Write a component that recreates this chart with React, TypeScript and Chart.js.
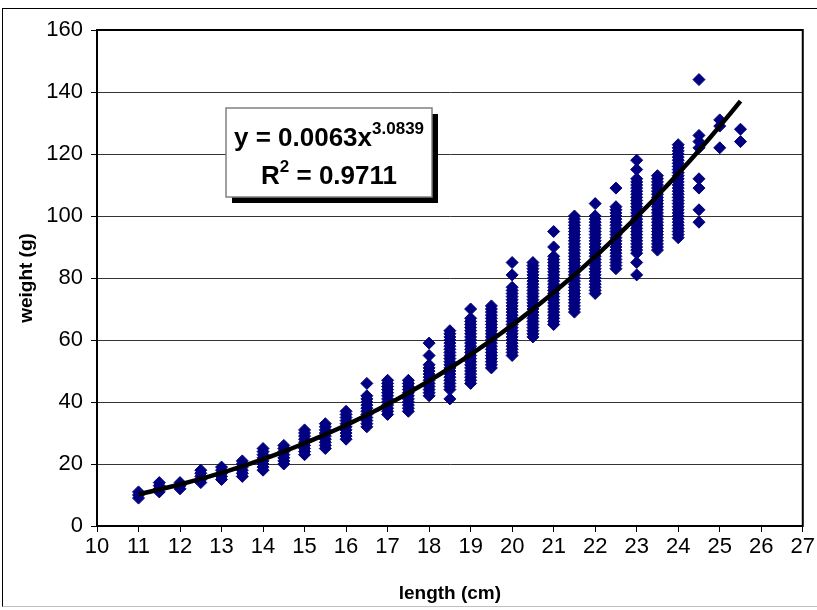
import { useEffect, useRef } from "react";
import { Chart, registerables } from "chart.js";

Chart.register(...registerables);

// ---- data ----
const xTickValues = [10, 11, 12, 13, 14, 15, 16, 17, 18, 19, 20, 21, 22, 23, 24, 25, 26, 27];
const yTickValues = [0, 20, 40, 60, 80, 100, 120, 140, 160];

const lengthsCm = [
  11, 11.5, 12, 12.5, 13, 13.5, 14, 14.5, 15, 15.5, 16, 16.5, 17, 17.5, 18,
  18.5, 19, 19.5, 20, 20.5, 21, 21.5, 22, 22.5, 23, 23.5, 24, 24.5, 25, 25.5,
];

const weightsG: number[][] = [
  [9, 10, 11],
  [11, 12, 13, 14],
  [12, 13, 14],
  [14, 15, 16, 17, 18],
  [15, 16, 17, 18, 19],
  [16, 17, 18, 19, 20, 21],
  [18, 19, 20, 21, 22, 23, 24, 25],
  [20, 21, 22, 23, 24, 25, 26],
  [23, 24, 25, 26, 27, 28, 29, 30, 31],
  [25, 26, 27, 28, 29, 30, 31, 32, 33],
  [28, 29, 30, 31, 32, 33, 34, 35, 36, 37],
  [32, 33, 34, 35, 36, 37, 38, 39, 40, 41, 42, 46],
  [36, 37, 38, 39, 40, 41, 42, 43, 44, 45, 46, 47],
  [37, 38, 39, 40, 41, 42, 43, 44, 45, 46, 47],
  [42, 43, 44, 45, 46, 47, 48, 49, 50, 51, 52, 55, 59],
  [41, 44, 45, 46, 47, 48, 49, 50, 51, 52, 53, 54, 55, 56, 57, 58, 59, 60, 61, 62, 63],
  [46, 47, 48, 49, 50, 51, 52, 53, 54, 55, 56, 57, 58, 59, 60, 61, 62, 63, 64, 65, 66, 67, 70],
  [51, 52, 53, 54, 55, 56, 57, 58, 59, 60, 61, 62, 63, 64, 65, 66, 67, 68, 69, 70, 71],
  [55, 56, 57, 58, 59, 60, 61, 62, 63, 64, 65, 66, 67, 68, 69, 70, 71, 72, 73, 74, 75, 76, 77, 81, 85],
  [61, 62, 63, 64, 65, 66, 67, 68, 69, 70, 71, 72, 73, 74, 75, 76, 77, 78, 79, 80, 81, 82, 83, 84, 85],
  [65, 66, 67, 68, 69, 70, 71, 72, 73, 74, 75, 76, 77, 78, 79, 80, 81, 82, 83, 84, 85, 86, 87, 90, 95],
  [69, 70, 71, 72, 73, 74, 75, 76, 77, 78, 79, 80, 81, 82, 83, 84, 85, 86, 87, 88, 89, 90, 91, 92, 93, 94, 95, 96, 97, 98, 99, 100],
  [75, 76, 77, 78, 79, 80, 81, 82, 83, 84, 85, 86, 87, 88, 89, 90, 91, 92, 93, 94, 95, 96, 97, 98, 99, 100, 104],
  [83, 84, 85, 86, 87, 88, 89, 90, 91, 92, 93, 94, 95, 96, 97, 98, 99, 100, 101, 102, 103, 109],
  [81, 85, 88, 89, 90, 91, 92, 93, 94, 95, 96, 97, 98, 99, 100, 101, 102, 103, 104, 105, 106, 107, 108, 109, 110, 111, 112, 115, 118],
  [89, 90, 91, 92, 93, 94, 95, 96, 97, 98, 99, 100, 101, 102, 103, 104, 105, 106, 107, 108, 109, 110, 111, 112, 113],
  [93, 94, 95, 96, 97, 98, 99, 100, 101, 102, 103, 104, 105, 106, 107, 108, 109, 110, 111, 112, 113, 114, 115, 116, 117, 118, 119, 120, 121, 122, 123],
  [98, 102, 109, 112, 122, 124, 126, 144],
  [122, 129, 131],
  [124, 128],
];

// power trend line fitted in the original: y = a * x^b
const trendCoefA = 0.0063;
const trendExpB = 3.0839;
const trendStart = 11;
const trendEnd = 25.5;

const eqMain = "y = 0.0063x";
const eqSup = "3.0839";
const r2Base = "R";
const r2Sup = "2";
const r2Rest = " = 0.9711";

const xTitle = "length (cm)";
const yTitle = "weight (g)";

const FONT = "'Liberation Sans', Arial, sans-serif";

export default function App() {
  const ref = useRef<HTMLCanvasElement | null>(null);

  useEffect(() => {
    document.body.style.margin = "0";
    const canvas = ref.current;
    if (!canvas) return;

    const scatterData = lengthsCm.flatMap((x, i) => weightsG[i].map((y) => ({ x, y })));
    const trendData: { x: number; y: number }[] = [];
    const steps = 60;
    for (let k = 0; k <= steps; k++) {
      const x = trendStart + ((trendEnd - trendStart) * k) / steps;
      trendData.push({ x, y: trendCoefA * Math.pow(x, trendExpB) });
    }

    const framePlugin = {
      id: "frameBox",
      beforeDatasetsDraw(chart: any) {
        const { ctx, chartArea: a } = chart;
        ctx.save();
        ctx.strokeStyle = "#000";
        ctx.lineWidth = 2;
        ctx.strokeRect(a.left, a.top, a.right - a.left, a.bottom - a.top);
        ctx.restore();
      },
      afterDatasetsDraw(chart: any) {
        const { ctx, chartArea: a } = chart;
        const bx = a.left + 129;
        const by = a.top + 78;
        const bw = 206;
        const bh = 89;
        ctx.save();
        ctx.fillStyle = "#000";
        ctx.fillRect(bx + 6, by + 6, bw, bh);
        ctx.fillStyle = "#fff";
        ctx.fillRect(bx, by, bw, bh);
        ctx.strokeStyle = "#808080";
        ctx.lineWidth = 1.5;
        ctx.strokeRect(bx, by, bw, bh);

        ctx.fillStyle = "#000";
        ctx.textBaseline = "alphabetic";
        ctx.textAlign = "left";
        const mainFont = `bold 26px ${FONT}`;
        const supFont = `bold 17px ${FONT}`;
        // line 1
        ctx.font = mainFont;
        const w1 = ctx.measureText(eqMain).width;
        ctx.font = supFont;
        const w1s = ctx.measureText(eqSup).width;
        const cx = bx + bw / 2;
        let sx = cx - (w1 + w1s) / 2;
        const base1 = by + 38;
        ctx.font = mainFont;
        ctx.fillText(eqMain, sx, base1);
        ctx.font = supFont;
        ctx.fillText(eqSup, sx + w1, base1 - 12);
        // line 2
        ctx.font = mainFont;
        const wR = ctx.measureText(r2Base).width;
        const wRest = ctx.measureText(r2Rest).width;
        ctx.font = supFont;
        const w2s = ctx.measureText(r2Sup).width;
        sx = cx - (wR + w2s + wRest) / 2;
        const base2 = by + 76;
        ctx.font = mainFont;
        ctx.fillText(r2Base, sx, base2);
        ctx.font = supFont;
        ctx.fillText(r2Sup, sx + wR, base2 - 12);
        ctx.font = mainFont;
        ctx.fillText(r2Rest, sx + wR + w2s, base2);
        ctx.restore();
      },
    };

    const chart = new Chart(canvas, {
      type: "scatter",
      data: {
        datasets: [
          {
            type: "line",
            label: "trend",
            data: trendData,
            borderColor: "#000",
            borderWidth: 4.5,
            pointRadius: 0,
            fill: false,
            tension: 0,
          } as any,
          {
            label: "weight",
            data: scatterData,
            pointStyle: "rectRot",
            pointRadius: 6,
            pointHoverRadius: 6,
            backgroundColor: "#000080",
            borderColor: "#000080",
            borderWidth: 1,
          },
        ],
      },
      options: {
        animation: false,
        responsive: false,
        devicePixelRatio: 1,
        layout: { padding: { left: 0, right: 13, top: 30, bottom: 0 } },
        plugins: {
          legend: { display: false },
          tooltip: { enabled: false },
        },
        scales: {
          x: {
            type: "linear",
            min: 10,
            max: 27,
            afterBuildTicks: (s: any) => {
              s.ticks = xTickValues.map((v) => ({ value: v }));
            },
            afterFit: (s: any) => {
              s.height = 84;
            },
            ticks: {
              color: "#000",
              font: { family: FONT, size: 22 },
              padding: 2,
              maxRotation: 0,
              autoSkip: false,
            },
            grid: {
              drawOnChartArea: false,
              drawTicks: true,
              tickLength: 6,
              tickColor: "#000",
              tickWidth: 1,
            },
            border: { color: "#000", width: 2 },
            title: {
              display: true,
              text: xTitle,
              color: "#000",
              font: { family: FONT, size: 19, weight: "bold" },
              padding: { top: 0, bottom: 5 },
            },
          },
          y: {
            type: "linear",
            min: 0,
            max: 160,
            afterBuildTicks: (s: any) => {
              s.ticks = yTickValues.map((v) => ({ value: v }));
            },
            afterFit: (s: any) => {
              s.width = 97;
            },
            ticks: {
              color: "#000",
              font: { family: FONT, size: 22 },
              padding: 8,
            },
            grid: {
              color: "#333",
              lineWidth: 1,
              drawTicks: true,
              tickLength: 6,
              tickColor: "#000",
            },
            border: { color: "#000", width: 2 },
            title: {
              display: true,
              text: yTitle,
              color: "#000",
              font: { family: FONT, size: 19, weight: "bold" },
              padding: { top: 15, bottom: 0 },
            },
          },
        },
      },
      plugins: [framePlugin],
    });

    return () => chart.destroy();
  }, []);

  return (
    <div style={{ position: "relative", width: 817, height: 610, overflow: "hidden", background: "#fff" }}>
      <canvas ref={ref} width={817} height={610} style={{ display: "block", position: "absolute", left: 0, top: 0 }} />
      <div
        style={{
          position: "absolute",
          left: 2,
          top: 8,
          width: 830,
          height: 597,
          borderLeft: "1px solid #000",
          borderTop: "1px solid #000",
          borderBottom: "1px solid #c0c0c0",
          pointerEvents: "none",
        }}
      />
    </div>
  );
}
